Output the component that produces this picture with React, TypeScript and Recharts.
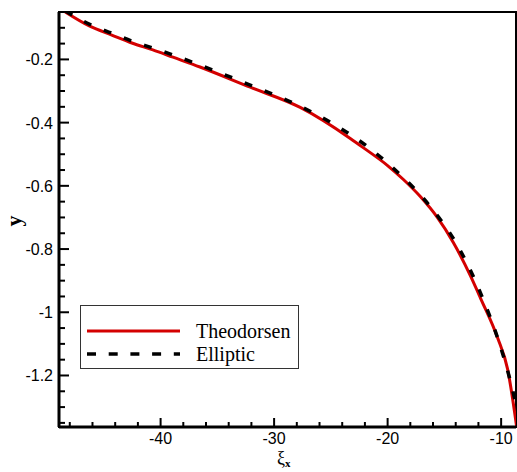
import React from 'react';
import { LineChart, Line, XAxis, YAxis, ReferenceArea } from 'recharts';

const theodorsenX = [-48.4, -46.24, -44.3, -42.53, -40.68, -38.91, -36.53, -32.1, -27.7, -23.29, -22.15, -20.03, -18.61, -17.12, -15.62, -14.2, -12.7, -11.82, -10.32, -9.43, -8.64];
const theodorsenY = [-0.05, -0.095, -0.123, -0.148, -0.17, -0.193, -0.224, -0.288, -0.352, -0.45, -0.479, -0.535, -0.58, -0.634, -0.7, -0.78, -0.885, -0.955, -1.08, -1.18, -1.36];

const ellipticX = [-48.4, -46.24, -44.3, -42.53, -40.68, -38.91, -35.38, -31.85, -28.32, -24.88, -21.7, -18.79, -16.14, -14.02, -13.05, -11.55, -10.23, -9.17, -8.64];
const ellipticY = [-0.047, -0.089, -0.117, -0.142, -0.164, -0.186, -0.234, -0.285, -0.338, -0.402, -0.478, -0.568, -0.67, -0.778, -0.842, -0.962, -1.09, -1.22, -1.3];

const xTicks = [-48, -46, -44, -42, -40, -38, -36, -34, -32, -30, -28, -26, -24, -22, -20, -18, -16, -14, -12, -10];
const xMajor = [-40, -30, -20, -10];
const yTicks = [-1.35, -1.3, -1.25, -1.2, -1.15, -1.1, -1.05, -1, -0.95, -0.9, -0.85, -0.8, -0.75, -0.7, -0.65, -0.6, -0.55, -0.5, -0.45, -0.4, -0.35, -0.3, -0.25, -0.2, -0.15, -0.1];
const yMajor = [-1.2, -1, -0.8, -0.6, -0.4, -0.2];

const seriesNames = ['Theodorsen', 'Elliptic'];

const theodorsenData = theodorsenX.map((x, i) => ({ x, y: theodorsenY[i] }));
const ellipticData = ellipticX.map((x, i) => ({ x, y: ellipticY[i] }));

const X_DOMAIN: [number, number] = [-48.95, -8.69];
const Y_DOMAIN: [number, number] = [-1.363, -0.05];

const isIn = (arr: number[], v: number) => arr.some((a) => Math.abs(a - v) < 1e-6);

const XTick = (props: any) => {
  const { x, y, payload } = props;
  const major = isIn(xMajor, payload.value);
  return (
    <g>
      <line x1={x} x2={x} y1={y} y2={y - (major ? 9 : 5)} stroke="#000" strokeWidth={2} />
      {major && (
        <text x={x} y={y + 17} textAnchor="middle" fontFamily="Liberation Sans, Arial, sans-serif" fontSize={16} fill="#000">
          {String(payload.value)}
        </text>
      )}
    </g>
  );
};

const YTick = (props: any) => {
  const { x, y, payload } = props;
  const major = isIn(yMajor, payload.value);
  return (
    <g>
      <line x1={x} x2={x + (major ? 10 : 6)} y1={y} y2={y} stroke="#000" strokeWidth={2} />
      {major && (
        <text x={x - 6} y={y + 6} textAnchor="end" fontFamily="Liberation Sans, Arial, sans-serif" fontSize={16} fill="#000">
          {String(payload.value)}
        </text>
      )}
    </g>
  );
};

export default function App() {
  return (
    <div style={{ position: 'absolute', left: 0, top: 0, width: 517, height: 472, background: '#fff' }}>
      <LineChart width={517} height={472} margin={{ top: 12, right: 1, bottom: 15, left: 0 }}>
        <XAxis
          type="number"
          dataKey="x"
          height={30}
          domain={X_DOMAIN}
          allowDataOverflow
          ticks={xTicks}
          interval={0}
          tickSize={0}
          tickMargin={0}
          tick={<XTick />}
          tickLine={false}
          axisLine={{ stroke: '#000', strokeWidth: 3 }}
          label={{
            position: 'insideBottom',
            content: () => (
              <text x={277} y={464} fontFamily="Liberation Serif, Times New Roman, serif" fontSize={18} fill="#000">
                ξ
                <tspan dy={3} fontSize={11} fontWeight="bold">x</tspan>
              </text>
            ),
          }}
        />
        <YAxis
          type="number"
          dataKey="y"
          width={59}
          domain={Y_DOMAIN}
          allowDataOverflow
          ticks={yTicks}
          interval={0}
          tickSize={0}
          tickMargin={0}
          tick={<YTick />}
          tickLine={false}
          axisLine={{ stroke: '#000', strokeWidth: 3 }}
          label={{
            position: 'insideLeft',
            content: () => (
              <text x={21} y={221} transform="rotate(-90 21 221)" textAnchor="middle" fontFamily="Liberation Serif, Times New Roman, serif" fontSize={22} fontWeight="bold" fill="#000">
                y
              </text>
            ),
          }}
        />
        <ReferenceArea
          x1={X_DOMAIN[0]}
          x2={X_DOMAIN[1]}
          y1={Y_DOMAIN[0]}
          y2={Y_DOMAIN[1]}
          fill="none"
          stroke="#000"
          strokeWidth={2}
          ifOverflow="visible"
        />
        <Line
          data={theodorsenData}
          dataKey="y"
          name={seriesNames[0]}
          type="monotone"
          stroke="#d40000"
          strokeWidth={3}
          dot={false}
          isAnimationActive={false}
        />
        <Line
          data={ellipticData}
          dataKey="y"
          name={seriesNames[1]}
          type="monotone"
          stroke="#000"
          strokeWidth={3.5}
          strokeDasharray="8 13.5"
          dot={false}
          isAnimationActive={false}
        />
      </LineChart>
      <div
        style={{
          position: 'absolute',
          left: 80,
          top: 305,
          width: 217,
          height: 62,
          border: '1px solid #333',
          background: '#fff',
        }}
      >
        <svg width={217} height={62} style={{ position: 'absolute', left: 0, top: 0 }}>
          <line x1={6} x2={99} y1={25} y2={25} stroke="#d40000" strokeWidth={3} />
          <line x1={6} x2={99} y1={48} y2={48} stroke="#000" strokeWidth={3.5} strokeDasharray="9 12.7" />
          <text x={115} y={32} fontFamily="Liberation Serif, Times New Roman, serif" fontSize={20} fill="#000">
            {seriesNames[0]}
          </text>
          <text x={115} y={55} fontFamily="Liberation Serif, Times New Roman, serif" fontSize={20} fill="#000">
            {seriesNames[1]}
          </text>
        </svg>
      </div>
    </div>
  );
}
